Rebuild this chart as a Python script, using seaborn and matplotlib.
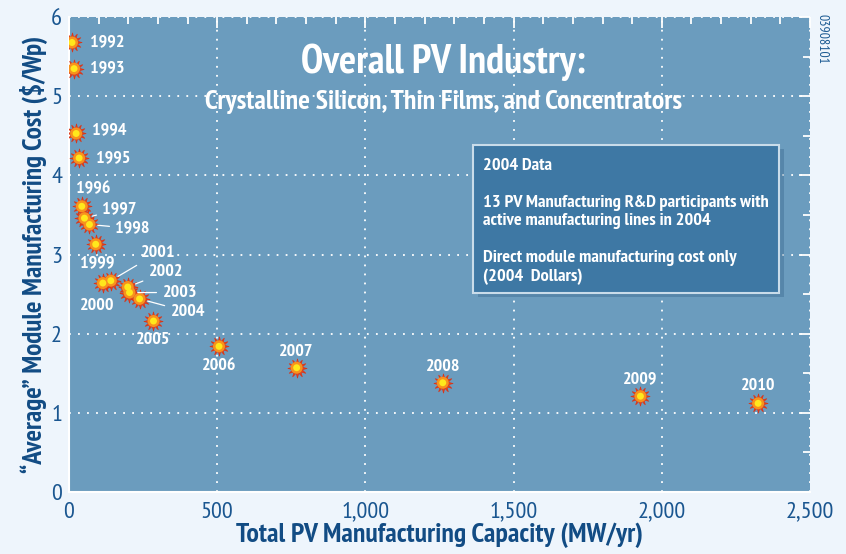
import numpy as np
import pandas as pd
import matplotlib.pyplot as plt
import matplotlib.patches as mpatches
from matplotlib.ticker import MultipleLocator, FuncFormatter
import seaborn as sns

# Dados (capacidade MW/ano, custo $/Wp)
years = ["1992", "1993", "1994", "1995", "1996", "1997", "1998", "1999", "2000",
         "2001", "2002", "2003", "2004", "2005", "2006", "2007", "2008", "2009", "2010"]
capacity = [10, 17, 24, 34, 43, 52, 69, 90, 114,
            141, 198, 204, 238, 285, 506, 768, 1261, 1928, 2325]
cost = [5.68, 5.35, 4.53, 4.22, 3.61, 3.46, 3.38, 3.13, 2.64,
        2.67, 2.59, 2.52, 2.44, 2.16, 1.84, 1.57, 1.38, 1.21, 1.12]

# deslocamento dos rótulos (pixels) e alinhamento; leader = linha de chamada
label_dx = [18, 16, 16, 17, 11, 18, 26, 2, -6, 30, 21, 33, 31, 0, 0, 0, 0, 0, 0]
label_dy = [0, 0, 3, 0, 17, 9, -4, -19, -23, 28, 15, 0, -13, -19, -20, 16, 16, 17, 17]
label_ha = ["left", "left", "left", "left", "center", "left", "left", "center", "center",
            "left", "left", "left", "left", "center", "center", "center", "center", "center", "center"]
leader = [False, False, False, False, False, True, True, False, False,
          True, True, True, True, False, False, False, False, False, False]

box_lines = ["2004 Data", "",
             "13 PV Manufacturing R&D participants with",
             "active manufacturing lines in 2004", "",
             "Direct module manufacturing cost only",
             "(2004  Dollars)"]

BG = "#EEF5FC"
FACE = "#6B9CBE"
DARK = "#1A5690"

df = pd.DataFrame({"Year": years, "Capacity": capacity, "Cost": cost})

sns.set_theme(style="white")
plt.rcParams["font.family"] = ["PT Sans Narrow", "DejaVu Sans"]

fig = plt.figure(figsize=(8.46, 5.54), dpi=100, facecolor=BG)
ax = fig.add_axes([0.0816, 0.112, 0.8758, 0.857])
ax.set_facecolor(FACE)

# marcadores em forma de "explosão"
sns.scatterplot(data=df, x="Capacity", y="Cost", ax=ax, marker=(12, 1, 0), s=190,
                color="#E8401C", edgecolor="#D93416", linewidth=0.5, zorder=4)
sns.scatterplot(data=df, x="Capacity", y="Cost", ax=ax, marker="o", s=75,
                color="#F7921E", edgecolor="none", zorder=5)
sns.scatterplot(data=df, x="Capacity", y="Cost", ax=ax, marker="o", s=25,
                color="#FFE81C", edgecolor="none", zorder=6)

for yr, x, y, dx, dy, ha, ld in zip(years, capacity, cost, label_dx, label_dy, label_ha, leader):
    props = None
    if ld:
        props = dict(arrowstyle="-", color="white", lw=0.9, shrinkA=2, shrinkB=6)
    ax.annotate(yr, (x, y), xytext=(dx, dy), textcoords="offset pixels",
                ha=ha, va="center", color="white", fontsize=13, fontweight="bold",
                arrowprops=props, zorder=7)

ax.set_xlim(0, 2500)
ax.set_ylim(0, 6)
ax.xaxis.set_major_locator(MultipleLocator(500))
ax.xaxis.set_minor_locator(MultipleLocator(100))
ax.yaxis.set_major_locator(MultipleLocator(1))
ax.yaxis.set_minor_locator(MultipleLocator(0.5))
ax.xaxis.set_major_formatter(FuncFormatter(lambda v, p: f"{int(v):,}"))

ax.grid(True, which="major", color="white", linestyle=(0, (1, 4)), lw=1.3)
ax.tick_params(which="both", direction="in", color="white", top=True, right=True,
               labelcolor=DARK, labelsize=17.5, width=1.3)
ax.tick_params(which="major", length=8)
ax.tick_params(which="minor", length=5)
ax.tick_params(axis="x", pad=7)
ax.tick_params(axis="y", pad=5)
for s in ["top", "right"]:
    ax.spines[s].set_visible(False)
for s in ["left", "bottom"]:
    ax.spines[s].set_color("white")
    ax.spines[s].set_linewidth(1.5)

ax.set_xlabel("Total PV Manufacturing Capacity (MW/yr)", fontsize=20, fontweight="bold",
              color="#124C84", labelpad=0)
ax.set_ylabel("\u201cAverage\u201d Module Manufacturing Cost ($/Wp)", fontsize=19.5,
              fontweight="bold", color="#124C84", labelpad=2)

ax.text(0.505, 0.905, "Overall PV Industry:", transform=ax.transAxes, ha="center",
        va="center", color="white", fontsize=29, fontweight="bold")
ax.text(0.505, 0.822, "Crystalline Silicon, Thin Films, and Concentrators",
        transform=ax.transAxes, ha="center", va="center", color="white",
        fontsize=20, fontweight="bold")

# caixa de informações
shadow = mpatches.Rectangle((1380, 2.46), 1033, 1.87, facecolor="#2F5F85", alpha=0.35,
                            edgecolor="none", zorder=2)
ax.add_patch(shadow)
box = mpatches.Rectangle((1364, 2.51), 1033, 1.87, facecolor="#3E78A4",
                         edgecolor="#C9DCEA", lw=1.5, zorder=3)
ax.add_patch(box)
ax.text(1397, 4.22, "\n".join(box_lines), ha="left", va="top", color="white",
        fontsize=13.2, fontweight="bold", linespacing=1.2, zorder=8)

fig.text(0.972, 0.975, "03908101", rotation=270, ha="center", va="top",
         color="#1B5A92", fontsize=10)

plt.savefig("out.png", dpi=100, facecolor=BG)
plt.close()
